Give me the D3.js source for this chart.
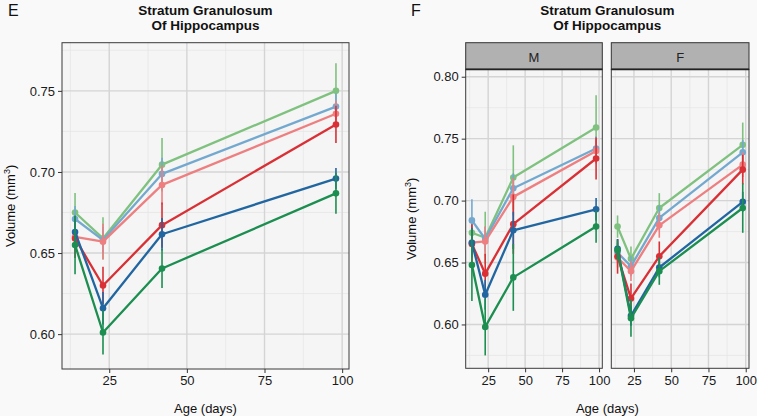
<!DOCTYPE html>
<html>
<head>
<meta charset="utf-8">
<script src="https://cdn.jsdelivr.net/npm/d3@7"></script>
<style>
  html, body { margin: 0; padding: 0; background: #f9f9f9; }
  svg { display: block; font-family: "Liberation Sans", Arial, Helvetica, sans-serif; }
</style>
</head>
<body>
<svg id="chart" width="757" height="416"></svg>
<script>
// ---- data ----
const ages = [14, 23, 42, 98];
const seriesNames = ["S1", "S2", "S3", "S4", "S5", "S6"];
const seriesColors = ["#7fc17f", "#74a9cf", "#ee7f80", "#d93036", "#2166a0", "#1b8e50"];

// Panel E (pooled)
const eMeans = [
  [0.675, 0.659, 0.7045, 0.750],
  [0.671, 0.658, 0.6988, 0.7403],
  [0.660, 0.657, 0.692, 0.7359],
  [0.659, 0.630, 0.6672, 0.7293],
  [0.663, 0.616, 0.6616, 0.6959],
  [0.655, 0.601, 0.6405, 0.6868]
];
const eErrors = [
  [0.012, 0.013, 0.0165, 0.017],
  [0.008, 0.008, 0.010, 0.008],
  [0.008, 0.011, 0.012, 0.008],
  [0.012, 0.0115, 0.014, 0.0115],
  [0.010, 0.010, 0.010, 0.0066],
  [0.018, 0.0135, 0.012, 0.0126]
];

// Panel F, facet M
const mMeans = [
  [0.674, 0.670, 0.7186, 0.759],
  [0.684, 0.669, 0.710, 0.742],
  [0.666, 0.667, 0.703, 0.740],
  [0.665, 0.641, 0.681, 0.734],
  [0.666, 0.624, 0.676, 0.693],
  [0.648, 0.598, 0.638, 0.679]
];
const mErrors = [
  [0.010, 0.021, 0.026, 0.026],
  [0.017, 0.010, 0.012, 0.010],
  [0.010, 0.012, 0.015, 0.010],
  [0.016, 0.016, 0.024, 0.017],
  [0.012, 0.012, 0.015, 0.009],
  [0.029, 0.023, 0.027, 0.013]
];

// Panel F, facet F
const fMeans = [
  [0.679, 0.653, 0.694, 0.745],
  [0.658, 0.647, 0.686, 0.739],
  [0.654, 0.643, 0.680, 0.729],
  [0.655, 0.621, 0.655, 0.725],
  [0.661, 0.607, 0.646, 0.699],
  [0.660, 0.605, 0.643, 0.694]
];
const fErrors = [
  [0.009, 0.010, 0.012, 0.018],
  [0.008, 0.008, 0.010, 0.010],
  [0.008, 0.008, 0.010, 0.010],
  [0.014, 0.012, 0.012, 0.012],
  [0.008, 0.008, 0.008, 0.008],
  [0.008, 0.015, 0.011, 0.020]
];

const xTicks = [25, 50, 75, 100];
const xMinor = [12.5, 37.5, 62.5, 87.5];
const eYTicks = [0.60, 0.65, 0.70, 0.75];
const eYMinor = [0.625, 0.675, 0.725, 0.775];
const fYTicks = [0.60, 0.65, 0.70, 0.75, 0.80];
const fYMinor = [0.575, 0.625, 0.675, 0.725, 0.775];
const titleLines = ["Stratum Granulosum", "Of Hippocampus"];
const facetNames = ["M", "F"];

// ---- drawing ----
const svg = d3.select("#chart");
const xDomain = [9.8, 102.2];
const FONT = "Liberation Sans, Arial, sans-serif";

function drawPanel(g, x, y, means, errs, yTicks, yMinor, showY) {
  const [x0, x1] = x.range();
  const [y0, y1] = y.range(); // y0 bottom, y1 top
  g.append("rect").attr("x", x0).attr("y", y1).attr("width", x1 - x0).attr("height", y0 - y1)
    .attr("fill", "#f5f5f5");
  // minor grid
  g.selectAll(".vminor").data(xMinor).join("line")
    .attr("x1", d => x(d)).attr("x2", d => x(d)).attr("y1", y0).attr("y2", y1)
    .attr("stroke", "#e6e6e6").attr("stroke-width", 0.8);
  g.selectAll(".hminor").data(yMinor).join("line")
    .attr("x1", x0).attr("x2", x1).attr("y1", d => y(d)).attr("y2", d => y(d))
    .attr("stroke", "#e6e6e6").attr("stroke-width", 0.8);
  // major grid
  g.selectAll(".vmajor").data(xTicks).join("line")
    .attr("x1", d => x(d)).attr("x2", d => x(d)).attr("y1", y0).attr("y2", y1)
    .attr("stroke", "#d4d4d4").attr("stroke-width", 1.4);
  g.selectAll(".hmajor").data(yTicks).join("line")
    .attr("x1", x0).attr("x2", x1).attr("y1", d => y(d)).attr("y2", d => y(d))
    .attr("stroke", "#d4d4d4").attr("stroke-width", 1.4);

  // series
  means.forEach((row, i) => {
    const col = seriesColors[i];
    const pts = ages.map((a, j) => ({ a, v: row[j], e: errs[i][j] }));
    g.append("g").selectAll("line").data(pts).join("line")
      .attr("x1", d => x(d.a)).attr("x2", d => x(d.a))
      .attr("y1", d => y(d.v - d.e)).attr("y2", d => y(d.v + d.e))
      .attr("stroke", col).attr("stroke-width", 1.6);
    g.append("path").datum(pts)
      .attr("d", d3.line().x(d => x(d.a)).y(d => y(d.v)))
      .attr("fill", "none").attr("stroke", col).attr("stroke-width", 2.3)
      .attr("stroke-linejoin", "round");
    g.append("g").selectAll("circle").data(pts).join("circle")
      .attr("cx", d => x(d.a)).attr("cy", d => y(d.v)).attr("r", 3.3)
      .attr("fill", col);
  });

  // border
  g.append("rect").attr("x", x0).attr("y", y1).attr("width", x1 - x0).attr("height", y0 - y1)
    .attr("fill", "none").attr("stroke", "#3a3a3a").attr("stroke-width", 1);

  // axes
  const xAxis = g.append("g").attr("transform", `translate(0,${y0})`)
    .call(d3.axisBottom(x).tickValues(xTicks).tickSize(4).tickPadding(3));
  xAxis.select(".domain").remove();
  xAxis.selectAll("line").attr("stroke", "#333");
  xAxis.selectAll("text").attr("font-size", 13).attr("fill", "#1a1a1a").attr("font-family", FONT);
  if (showY) {
    const yAxis = g.append("g").attr("transform", `translate(${x0},0)`)
      .call(d3.axisLeft(y).tickValues(yTicks).tickFormat(d3.format(".2f")).tickSize(4).tickPadding(3));
    yAxis.select(".domain").remove();
    yAxis.selectAll("line").attr("stroke", "#333");
    yAxis.selectAll("text").attr("font-size", 13).attr("fill", "#1a1a1a").attr("font-family", FONT);
  }
}

function drawTitle(cx) {
  const t = svg.append("text").attr("text-anchor", "middle")
    .attr("font-weight", "bold").attr("font-size", 13.5).attr("fill", "#111");
  titleLines.forEach((s, i) => {
    t.append("tspan").attr("x", cx).attr("y", 15 + i * 15).text(s);
  });
}

function drawYLabel(xPos, cy) {
  const t = svg.append("text").attr("transform", `translate(${xPos},${cy}) rotate(-90)`)
    .attr("text-anchor", "middle").attr("font-size", 13).attr("fill", "#111");
  t.append("tspan").text("Volume (mm");
  t.append("tspan").attr("font-size", 9).attr("dy", -5).text("3");
  t.append("tspan").attr("dy", 5).text(")");
}

// Panel E
const eX = d3.scaleLinear().domain(xDomain).range([62, 349]);
const eY = d3.scaleLinear().domain([0.5785, 0.7797]).range([369, 42.7]);
svg.append("text").attr("x", 8).attr("y", 16).attr("font-size", 16).attr("fill", "#111").text("E");
drawTitle((62 + 349) / 2);
drawPanel(svg.append("g"), eX, eY, eMeans, eErrors, eYTicks, eYMinor, true);
drawYLabel(15, (42.7 + 369) / 2);
svg.append("text").attr("x", (62 + 349) / 2).attr("y", 413).attr("text-anchor", "middle")
  .attr("font-size", 13).attr("fill", "#111").text("Age (days)");

// Panel F
const facetRanges = [[465.7, 602.3], [611.3, 749]];
const fY = d3.scaleLinear().domain([0.5646, 0.806]).range([368.3, 69.3]);
svg.append("text").attr("x", 411).attr("y", 16).attr("font-size", 16).attr("fill", "#111").text("F");
drawTitle((465.7 + 749) / 2);
const facetData = [[mMeans, mErrors], [fMeans, fErrors]];
facetRanges.forEach((r, k) => {
  const x = d3.scaleLinear().domain(xDomain).range(r);
  drawPanel(svg.append("g"), x, fY, facetData[k][0], facetData[k][1], fYTicks, fYMinor, k === 0);
  // strip
  svg.append("rect").attr("x", r[0]).attr("y", 42.7).attr("width", r[1] - r[0]).attr("height", 69.3 - 42.7)
    .attr("fill", "#b1b1b1").attr("stroke", "#333").attr("stroke-width", 1);
  svg.append("line").attr("x1", r[0]).attr("x2", r[1]).attr("y1", 69.3).attr("y2", 69.3)
    .attr("stroke", "#222").attr("stroke-width", 1.8);
  svg.append("text").attr("x", (r[0] + r[1]) / 2).attr("y", 62).attr("text-anchor", "middle")
    .attr("font-size", 13).attr("fill", "#222").text(facetNames[k]);
});
drawYLabel(416, (69.3 + 368.3) / 2);
svg.append("text").attr("x", (465.7 + 749) / 2).attr("y", 413).attr("text-anchor", "middle")
  .attr("font-size", 13).attr("fill", "#111").text("Age (days)");
</script>
</body>
</html>
